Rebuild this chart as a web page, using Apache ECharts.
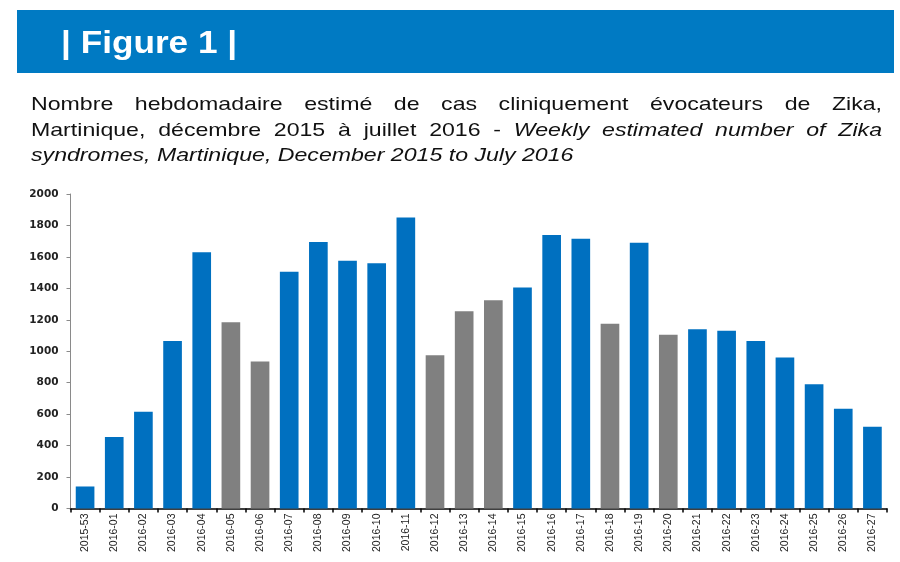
<!DOCTYPE html>
<html>
<head>
<meta charset="utf-8">
<script src="https://cdn.jsdelivr.net/npm/echarts@6/dist/echarts.min.js"></script>
<style>
html,body{margin:0;padding:0;background:#fff;}
#chart{width:900px;height:562px;}
</style>
</head>
<body>
<div id="chart"></div>
<script>
// ---- data ----
const categories = ['2015-53','2016-01','2016-02','2016-03','2016-04','2016-05','2016-06','2016-07','2016-08','2016-09','2016-10','2016-11','2016-12','2016-13','2016-14','2016-15','2016-16','2016-17','2016-18','2016-19','2016-20','2016-21','2016-22','2016-23','2016-24','2016-25','2016-26','2016-27'];
const cases = [140,455,615,1065,1630,1185,935,1505,1695,1575,1560,1850,975,1255,1325,1405,1740,1715,1175,1690,1105,1140,1130,1065,960,790,635,520];
const greyWeeks = ['2016-05','2016-06','2016-12','2016-13','2016-14','2016-18','2016-20'];
const yTicks = {min:0, max:2000, interval:200};

const headerText = '| Figure 1 |';
const titleFr1 = 'Nombre hebdomadaire estimé de cas cliniquement évocateurs de Zika,';
const titleFr2 = 'Martinique, décembre 2015 à juillet 2016 -';
const titleEn2 = 'Weekly estimated number of Zika';
const titleEn3 = 'syndromes, Martinique, December 2015 to July 2016';

// ---- styles ----
const BLUE = '#0070C0', GREY = '#808080', HEADER = '#007AC3';
const FS = 18.5, SX = 1.25, FONT = '"Liberation Sans", Arial, sans-serif';
const X0 = 31, X1 = 882;

const mctx = document.createElement('canvas').getContext('2d');
function measure(t, italic){
  mctx.font = (italic ? 'italic ' : '') + FS + 'px ' + FONT;
  return mctx.measureText(t).width;
}
function lineGroup(words, baseline, justify){
  const widths = words.map(w => measure(w.t, w.i));
  const total = widths.reduce((a,b)=>a+b,0);
  const localW = (X1 - X0) / SX;
  const gap = justify ? (localW - total) / (words.length - 1) : measure(' ', false);
  let x = 0;
  const children = words.map((w, k) => {
    const el = {type:'text', style:{x:x, y:0, text:w.t, fontSize:FS, fontFamily:FONT, fontStyle:w.i?'italic':'normal', fill:'#111', align:'left', verticalAlign:'middle'}};
    x += widths[k] + gap;
    return el;
  });
  return {type:'group', x:X0, y:baseline - 0.31*FS, scaleX:SX, scaleY:1, children:children};
}
const words = s => s.split(' ');
const line1 = words(titleFr1).map(t=>({t, i:false}));
const line2 = words(titleFr2).map(t=>({t, i:false})).concat(words(titleEn2).map(t=>({t, i:true})));
const line3 = words(titleEn3).map(t=>({t, i:true}));

const chart = echarts.init(document.getElementById('chart'), null, {renderer:'canvas'});
chart.setOption({
  animation:false,
  backgroundColor:'#fff',
  graphic:[
    {type:'rect', shape:{x:17, y:10, width:877, height:63}, style:{fill:HEADER}},
    {type:'group', x:61, y:44, scaleX:1.1, children:[
      {type:'text', style:{x:0, y:0, text:headerText, fontSize:32, fontWeight:'bold', fontFamily:FONT, fill:'#fff', align:'left', verticalAlign:'middle'}}
    ]},
    lineGroup(line1, 111, true),
    lineGroup(line2, 137, true),
    lineGroup(line3, 162, false)
  ],
  grid:{left:70.5, right:13, top:194, bottom:53.5, containLabel:false},
  xAxis:{
    type:'category', data:categories, boundaryGap:true,
    axisLine:{show:true, lineStyle:{color:'#000', width:1.5}},
    axisTick:{show:true, alignWithLabel:false, length:4, lineStyle:{color:'#000', width:1.5}},
    axisLabel:{interval:0, rotate:90, margin:5, fontSize:10.5, fontFamily:'"Liberation Sans Narrow", "Liberation Sans", Arial, sans-serif', color:'#222'},
    splitLine:{show:false}
  },
  yAxis:{
    type:'value', min:yTicks.min, max:yTicks.max, interval:yTicks.interval,
    axisLine:{show:true, lineStyle:{color:'#8a8a8a', width:1}},
    axisTick:{show:true, length:4, lineStyle:{color:'#8a8a8a'}},
    axisLabel:{margin:12, fontSize:10.5, fontWeight:'bold', fontFamily:'"DejaVu Sans", sans-serif', color:'#222', formatter: v => String(v)},
    splitLine:{show:false}
  },
  series:[{
    type:'bar', barCategoryGap:'36%',
    data:cases.map((v,k)=>({value:v, itemStyle:{color: greyWeeks.includes(categories[k]) ? GREY : BLUE}})),
    itemStyle:{borderWidth:0}
  }]
});
</script>
</body>
</html>
